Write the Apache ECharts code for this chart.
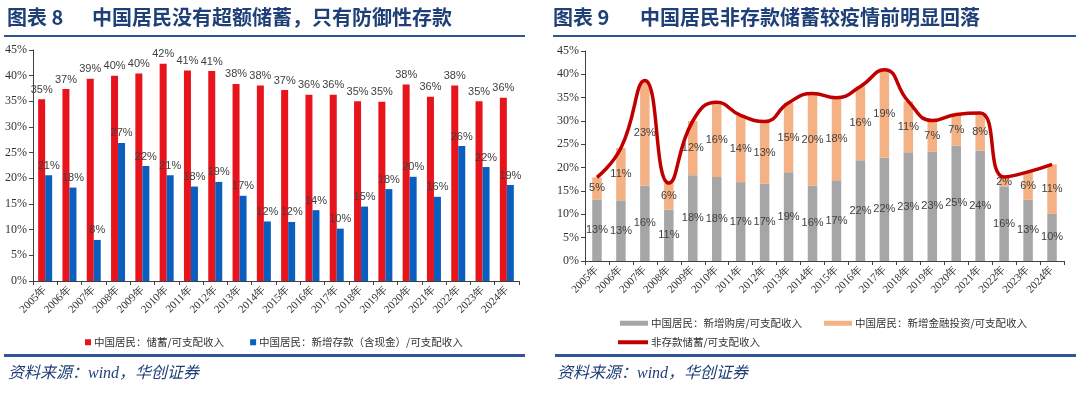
<!DOCTYPE html>
<html>
<head>
<meta charset="utf-8">
<script src="https://cdn.jsdelivr.net/npm/echarts@6/dist/echarts.min.js"></script>
<style>
  html,body{margin:0;padding:0;background:#fff;}
  #main{width:1080px;height:396px;}
</style>
</head>
<body>
<div id="main"></div>
<script>
// 年份
var years = ['2005年','2006年','2007年','2008年','2009年','2010年','2011年','2012年','2013年','2014年',
             '2015年','2016年','2017年','2018年','2019年','2020年','2021年','2022年','2023年','2024年'];

// 图表8：储蓄/可支配收入，新增存款（含现金）/可支配收入
var savingRate = [35.4,37.4,39.4,40.0,40.4,42.3,41.0,40.9,38.4,38.1,37.2,36.3,36.3,35.0,34.9,38.3,35.9,38.1,35.0,35.7];
var depositRate = [20.6,18.2,8.0,26.9,22.4,20.6,18.4,19.3,16.6,11.6,11.5,13.8,10.2,14.5,17.9,20.3,16.4,26.3,22.2,18.7];

// 图表9：新增购房、新增金融投资、非存款储蓄
var houseRate = [13.2,13.0,16.1,11.0,18.4,18.0,16.9,16.6,19.0,16.1,17.3,21.6,22.1,23.3,23.4,24.7,23.7,16.0,13.1,10.1];
var financeRate = [4.7,11.2,22.6,5.7,11.6,16.0,14.3,13.3,14.9,19.8,17.7,15.8,18.9,10.9,6.7,6.7,8.0,2.0,6.0,10.6];
var nonDepositRate = [17.9,24.2,38.7,16.7,30.0,34.0,31.2,29.9,33.9,35.9,35.0,37.4,41.0,34.2,30.1,31.4,31.7,18.0,19.1,20.7];

var yTicks = [0,5,10,15,20,25,30,35,40,45];

var serifFont = '"Liberation Serif","Times New Roman",serif';
var labelFont = '"Liberation Sans","Noto Sans CJK SC",sans-serif';
var cjkFont = '"Noto Sans CJK SC",sans-serif';
var headBlue = '#1F3F77';

function pct(p){
    return Math.round(p.value)+'%';
}

function yAxisOf(gridIndex){
    return {
        type:'value',
        gridIndex:gridIndex,
        min:yTicks[0],
        max:yTicks[yTicks.length-1],
        interval:yTicks[1]-yTicks[0],
        axisLine:{show:true,lineStyle:{color:'#404040',width:1}},
        axisTick:{show:true,inside:false,length:4,lineStyle:{color:'#404040'}},
        axisLabel:{color:'#333',fontFamily:serifFont,fontSize:12,margin:6,formatter:'{value}%'},
        splitLine:{show:false}
    };
}

function xAxisOf(gridIndex){
    return {
        type:'category',
        gridIndex:gridIndex,
        data:years,
        axisLine:{lineStyle:{color:'#404040',width:1}},
        axisTick:{show:true,length:4,lineStyle:{color:'#404040'}},
        axisLabel:{color:'#333',fontFamily:serifFont,fontSize:11,rotate:45,margin:7,interval:0}
    };
}

function legendOf(left,top,items,w,h){
    return {
        left:left,top:top,
        itemWidth:w,itemHeight:h,itemGap:26,
        textStyle:{color:'#333',fontSize:10.5,fontFamily:cjkFont,padding:[0,0,0,-2]},
        data:items
    };
}

var option = {
    animation:false,
    backgroundColor:'#fff',
    textStyle:{fontFamily:cjkFont},
    graphic:[
        {type:'text',left:7,top:7,style:{text:'图表 8',fill:headBlue,font:'bold 20px "Noto Sans CJK SC"'}},
        {type:'text',left:92,top:7,style:{text:'中国居民没有超额储蓄，只有防御性存款',fill:headBlue,font:'bold 20px "Noto Sans CJK SC"'}},
        {type:'text',left:553,top:7,style:{text:'图表 9',fill:headBlue,font:'bold 20px "Noto Sans CJK SC"'}},
        {type:'text',left:640,top:7,style:{text:'中国居民非存款储蓄较疫情前明显回落',fill:headBlue,font:'bold 20px "Noto Sans CJK SC"'}},
        {type:'rect',shape:{x:4,y:35,width:521,height:2},style:{fill:'#2F5597'}},
        {type:'rect',shape:{x:553,y:35,width:523,height:2},style:{fill:'#2F5597'}},
        {type:'rect',shape:{x:4,y:354,width:521,height:3},style:{fill:'#2F5597'}},
        {type:'rect',shape:{x:555,y:354,width:521,height:3},style:{fill:'#2F5597'}},
        {type:'text',left:8,top:366,style:{text:'资料来源：wind，华创证券',fill:headBlue,font:'italic 16px "Liberation Serif","Noto Sans CJK SC"'}},
        {type:'text',left:557,top:366,style:{text:'资料来源：wind，华创证券',fill:headBlue,font:'italic 16px "Liberation Serif","Noto Sans CJK SC"'}}
    ],
    legend:[
        legendOf(80,332,[
            {name:'中国居民：储蓄/可支配收入',icon:'rect'},
            {name:'中国居民：新增存款（含现金）/可支配收入',icon:'rect'}
        ],6,6),
        legendOf(615,313,[{name:'中国居民：新增购房/可支配收入',icon:'rect'}],28,5),
        legendOf(819,313,[{name:'中国居民：新增金融投资/可支配收入',icon:'rect'}],28,5),
        legendOf(613,332,[{name:'非存款储蓄/可支配收入',icon:'rect',itemStyle:{color:'#C00000'}}],30,4)
    ],
    grid:[
        {left:33,right:561,top:50,bottom:115},
        {left:585,right:16,top:51,bottom:135}
    ],
    xAxis:[xAxisOf(0),xAxisOf(1)],
    yAxis:[yAxisOf(0),yAxisOf(1)],
    series:[
        {
            name:'中国居民：储蓄/可支配收入',
            type:'bar',
            xAxisIndex:0,yAxisIndex:0,
            barWidth:7,
            barGap:'0%',
            itemStyle:{color:'#E8141C'},
            label:{show:true,position:'top',distance:4,color:'#404040',fontSize:11,fontFamily:labelFont,formatter:pct},
            data:savingRate
        },
        {
            name:'中国居民：新增存款（含现金）/可支配收入',
            type:'bar',
            xAxisIndex:0,yAxisIndex:0,
            barWidth:7,
            barGap:'0%',
            itemStyle:{color:'#0A5EC0'},
            label:{show:true,position:'top',distance:4,color:'#404040',fontSize:11,fontFamily:labelFont,formatter:pct},
            data:depositRate
        },
        {
            name:'中国居民：新增购房/可支配收入',
            type:'bar',
            stack:'total',
            xAxisIndex:1,yAxisIndex:1,
            barWidth:9.5,
            itemStyle:{color:'#A6A6A6'},
            label:{show:true,position:'inside',color:'#404040',fontSize:11,fontFamily:labelFont,formatter:pct},
            data:houseRate
        },
        {
            name:'中国居民：新增金融投资/可支配收入',
            type:'bar',
            stack:'total',
            xAxisIndex:1,yAxisIndex:1,
            barWidth:9.5,
            itemStyle:{color:'#F4B183'},
            label:{show:true,position:'inside',color:'#404040',fontSize:11,fontFamily:labelFont,formatter:pct},
            data:financeRate
        },
        {
            name:'非存款储蓄/可支配收入',
            type:'line',
            xAxisIndex:1,yAxisIndex:1,
            smooth:0.5,
            symbol:'none',
            lineStyle:{color:'#C00000',width:3.5},
            itemStyle:{color:'#C00000'},
            z:5,
            data:nonDepositRate
        }
    ]
};

var chart = echarts.init(document.getElementById('main'));
chart.setOption(option);
</script>
</body>
</html>
